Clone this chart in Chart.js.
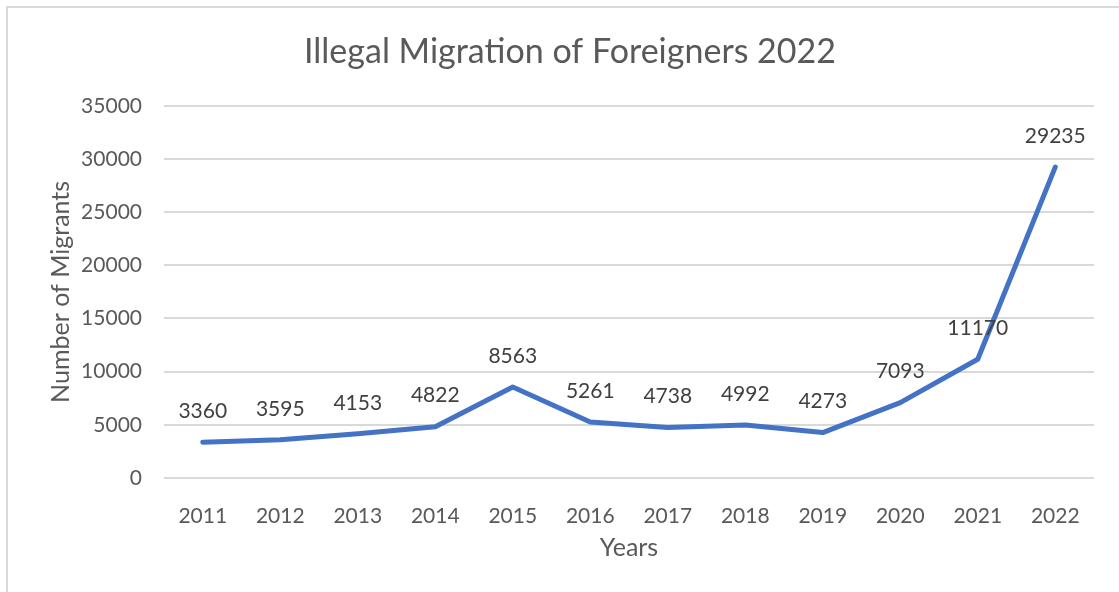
<!DOCTYPE html>
<html>
<head>
<meta charset="utf-8">
<script src="https://cdn.jsdelivr.net/npm/chart.js@4"></script>
<style>
  html, body { margin: 0; padding: 0; background: #fff; }
  #wrap { position: relative; width: 1119px; height: 592px; overflow: hidden; }
  #frame { position: absolute; left: 6px; top: 6px; width: 1200px; height: 700px; border: 2px solid #d9d9d9; }
  #chart { position: absolute; left: 0; top: 0; }
</style>
</head>
<body>
<div id="wrap">
  <div id="frame"></div>
  <canvas id="chart" width="1119" height="592"></canvas>
</div>
<script>
const years = ['2011', '2012', '2013', '2014', '2015', '2016', '2017', '2018', '2019', '2020', '2021', '2022'];
const migrants = [3360, 3595, 4153, 4822, 8563, 5261, 4738, 4992, 4273, 7093, 11170, 29235];
const yTicks = [0, 5000, 10000, 15000, 20000, 25000, 30000, 35000];

const FONT = "Lato, 'Open Sans', sans-serif";
const GREY = '#595959';

// value labels sitting above each point
const pointLabels = {
    id: 'pointLabels',
    afterDatasetsDraw(chart) {
        const ctx = chart.ctx;
        const meta = chart.getDatasetMeta(0);
        const values = chart.data.datasets[0].data;
        ctx.save();
        ctx.font = `21px ${FONT}`;
        ctx.fillStyle = '#404040';
        ctx.textAlign = 'center';
        ctx.textBaseline = 'middle';
        meta.data.forEach((pt, i) => {
            ctx.fillText(String(values[i]), pt.x, pt.y - 31);
        });
        ctx.restore();
    }
};

new Chart(document.getElementById('chart'), {
    type: 'line',
    data: {
        labels: years,
        datasets: [{
            data: migrants,
            borderColor: '#4472C4',
            borderWidth: 5,
            borderCapStyle: 'round',
            borderJoinStyle: 'round',
            pointRadius: 0,
            tension: 0
        }]
    },
    options: {
        responsive: false,
        animation: false,
        layout: { padding: { left: 46, right: 25, top: 0, bottom: 0 } },
        plugins: {
            legend: { display: false },
            tooltip: { enabled: false },
            title: {
                display: true,
                text: 'Illegal Migration of Foreigners 2022',
                color: GREY,
                font: { family: FONT, size: 34, weight: 'normal' },
                padding: { top: 32, bottom: 33 }
            }
        },
        scales: {
            x: {
                offset: true,
                grid: { display: false },
                border: { display: false },
                ticks: { color: GREY, font: { family: FONT, size: 21 }, padding: 18, maxRotation: 0 },
                title: {
                    display: true,
                    text: 'Years',
                    color: GREY,
                    font: { family: FONT, size: 25 },
                    padding: { top: 0, bottom: 29 }
                },
                afterFit(scale) { scale.height = 114; }
            },
            y: {
                min: 0,
                max: 35000,
                afterBuildTicks(scale) { scale.ticks = yTicks.map(v => ({ value: v })); },
                grid: { color: '#d9d9d9', lineWidth: 2, drawTicks: false },
                border: { display: false },
                ticks: {
                    color: GREY,
                    font: { family: FONT, size: 21 },
                    padding: 22,
                    callback: (v) => String(v)
                },
                title: {
                    display: true,
                    text: 'Number of Migrants',
                    color: GREY,
                    font: { family: FONT, size: 25 },
                    padding: { top: 0, bottom: 0 }
                },
                afterFit(scale) { scale.width = 118; }
            }
        }
    },
    plugins: [pointLabels]
});
</script>
</body>
</html>
